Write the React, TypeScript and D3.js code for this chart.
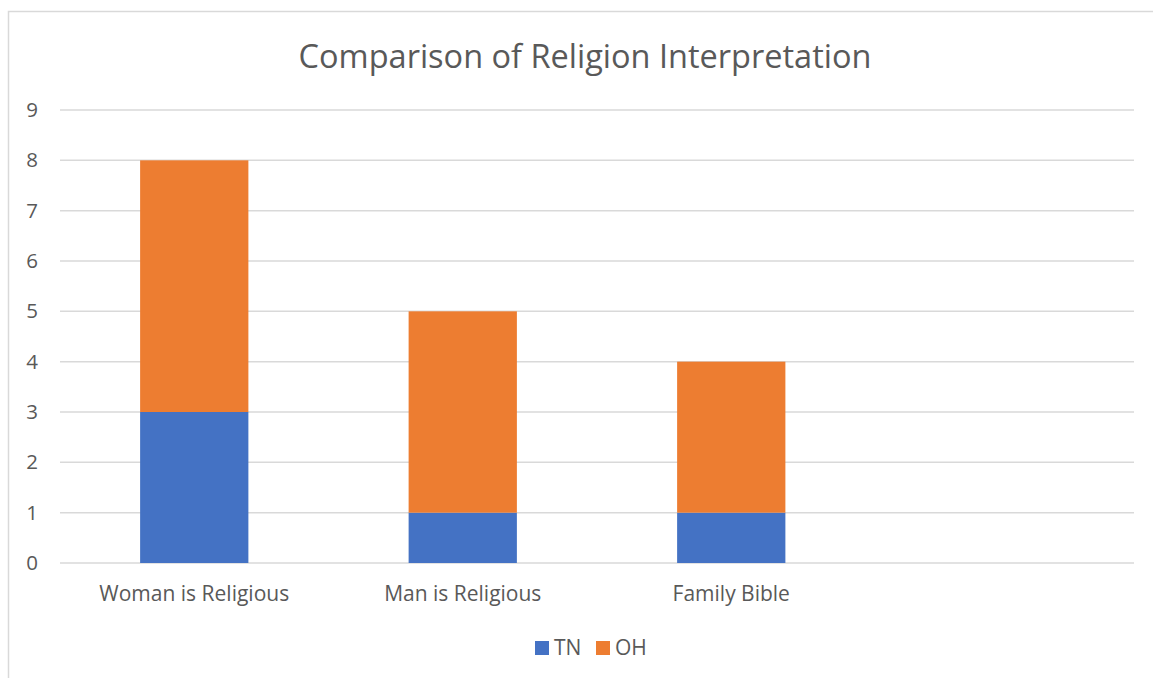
import React from "react";
import * as d3 from "d3";

// Chart data
const categories = ["Woman is Religious", "Man is Religious", "Family Bible", ""];
const seriesNames = ["TN", "OH"];
const tnValues = [3, 1, 1, 0];
const ohValues = [5, 4, 3, 0];
const yTicks = [0, 1, 2, 3, 4, 5, 6, 7, 8, 9];
const colors = ["#4472C4", "#ED7D31"];

const W = 1153;
const H = 678;
const FONT = "'Open Sans', 'Noto Sans', sans-serif";
const TEXT = "#595959";

export default function App() {
  const plot = { left: 60, right: 1134, top: 110, bottom: 563 };

  const x = d3
    .scaleBand<string>()
    .domain(categories.map((c, i) => `${i}`))
    .range([plot.left, plot.right])
    .paddingInner(0)
    .paddingOuter(0);

  const y = d3.scaleLinear().domain([0, 9]).range([plot.bottom, plot.top]);

  const rows = categories.map((c, i) => ({ key: `${i}`, TN: tnValues[i], OH: ohValues[i] }));
  const stacked = d3.stack<any>().keys(seriesNames)(rows);

  const band = x.bandwidth();
  const barW = band / 2.48;

  return (
    <svg
      width={W}
      height={H}
      style={{ position: "absolute", left: 0, top: 0, display: "block", background: "#fff" }}
      fontFamily={FONT}
    >
      <rect x={8.5} y={11.5} width={W + 20} height={H + 20} fill="#fff" stroke="#D9D9D9" strokeWidth={1.5} />

      <text x={585} y={68} textAnchor="middle" fontSize={32.5} fill={TEXT}>
        Comparison of Religion Interpretation
      </text>

      {yTicks.map((t) => (
        <g key={t}>
          <line x1={plot.left} x2={plot.right} y1={y(t)} y2={y(t)} stroke="#D9D9D9" strokeWidth={1.5} />
          <text x={38} y={y(t) + 7} textAnchor="end" fontSize={20.5} fill={TEXT}>
            {t}
          </text>
        </g>
      ))}

      {stacked.map((s, si) =>
        s.map((d, i) =>
          d[1] - d[0] > 0 ? (
            <rect
              key={`${si}-${i}`}
              x={(x(`${i}`) as number) + band / 2 - barW / 2}
              y={y(d[1])}
              width={barW}
              height={y(d[0]) - y(d[1])}
              fill={colors[si]}
            />
          ) : null
        )
      )}

      {categories.map((c, i) => (
        <text
          key={i}
          x={(x(`${i}`) as number) + band / 2}
          y={601}
          textAnchor="middle"
          fontSize={21}
          fill={TEXT}
        >
          {c}
        </text>
      ))}

      {seriesNames.map((n, i) => (
        <g key={n} transform={`translate(${535 + i * 61},0)`}>
          <rect x={0} y={641} width={14} height={14} fill={colors[i]} />
          <text x={19} y={655} fontSize={21} fill={TEXT}>
            {n}
          </text>
        </g>
      ))}
    </svg>
  );
}
